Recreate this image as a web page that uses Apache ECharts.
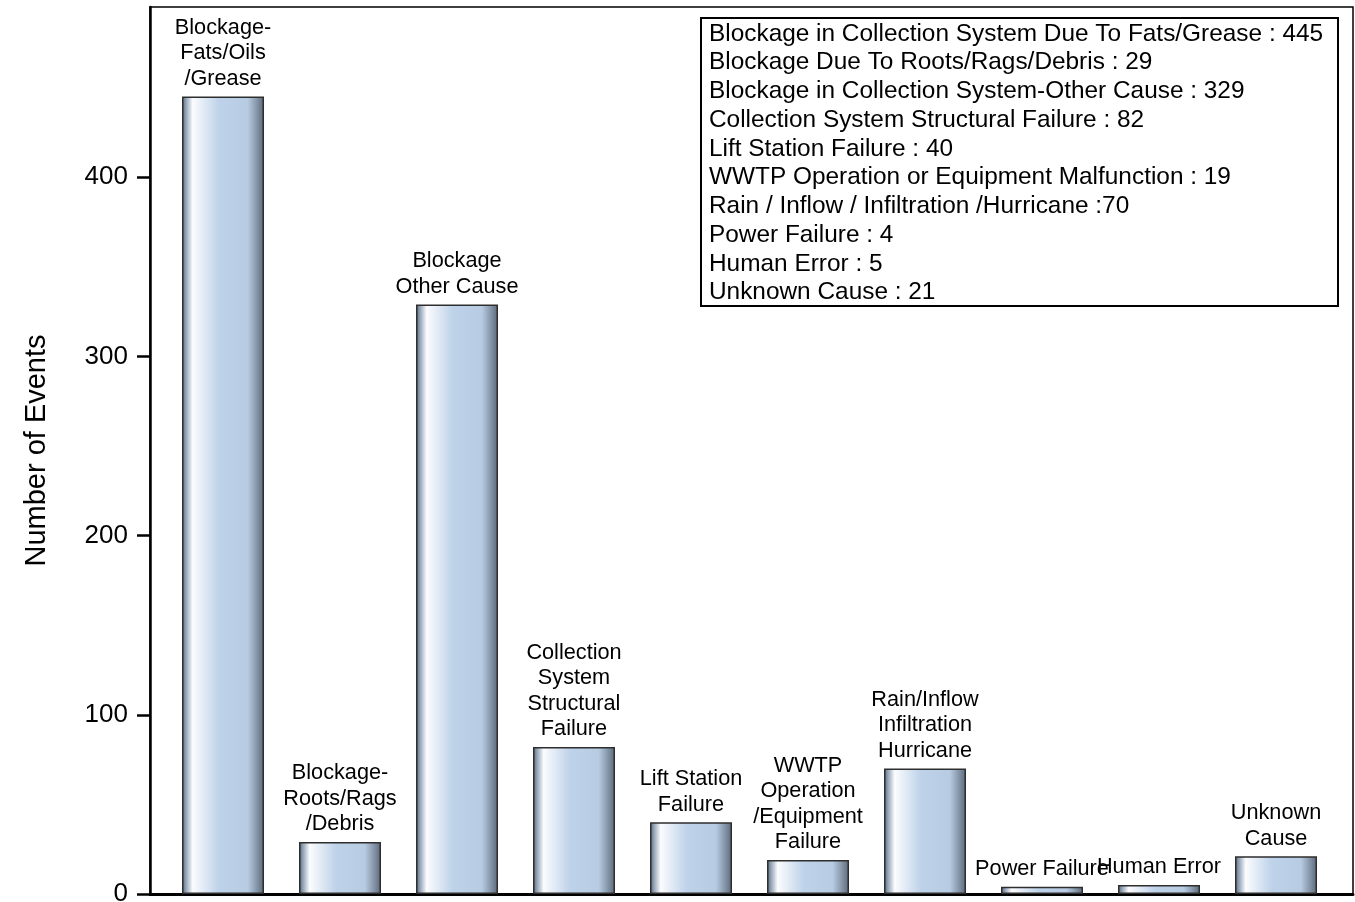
<!DOCTYPE html>
<html>
<head>
<meta charset="utf-8">
<script src="https://cdn.jsdelivr.net/npm/echarts@6/dist/echarts.min.js"></script>
<style>
html,body{margin:0;padding:0;background:#fff;}
#chart{width:1355px;height:902px;}
</style>
</head>
<body>
<div id="chart"></div>
<script>
// ---- data ----
const categories = [
  'Blockage-\nFats/Oils\n/Grease',
  'Blockage-\nRoots/Rags\n/Debris',
  'Blockage\nOther Cause',
  'Collection\nSystem\nStructural\nFailure',
  'Lift Station\nFailure',
  'WWTP\nOperation\n/Equipment\nFailure',
  'Rain/Inflow\nInfiltration\nHurricane',
  'Power Failure',
  'Human Error',
  'Unknown\nCause'
];
const values = [445, 29, 329, 82, 40, 19, 70, 4, 5, 21];
const legendLines = [
  'Blockage in Collection System Due To Fats/Grease : 445',
  'Blockage Due To Roots/Rags/Debris : 29',
  'Blockage in Collection System-Other Cause : 329',
  'Collection System Structural Failure : 82',
  'Lift Station Failure : 40',
  'WWTP Operation or Equipment Malfunction : 19',
  'Rain / Inflow / Infiltration /Hurricane :70',
  'Power Failure : 4',
  'Human Error : 5',
  'Unknown Cause : 21'
];
const yTicks = [0, 100, 200, 300, 400];
const yAxisTitle = 'Number of Events';

// ---- chart ----
const chart = echarts.init(document.getElementById('chart'));
const FONT = 'Liberation Sans, Arial, sans-serif';
const gridL = 150, gridT = 7, gridW = 1203, gridH = 887;

const barColor = {
  type: 'linear', x: 0, y: 0, x2: 1, y2: 0,
  colorStops: [
    {offset: 0, color: '#56677b'},
    {offset: 0.05, color: '#95a5b8'},
    {offset: 0.13, color: '#fbfcfe'},
    {offset: 0.45, color: '#bed2e9'},
    {offset: 0.8, color: '#b7cce3'},
    {offset: 0.9, color: '#8c9cb0'},
    {offset: 1, color: '#5a6879'}
  ]
};

const option = {
  backgroundColor: '#fff',
  animation: false,
  grid: {left: gridL, top: gridT, width: gridW, height: gridH, outerBoundsMode: 'none', containLabel: false},
  xAxis: {
    type: 'value',
    min: -0.624, max: 9.658,
    axisLine: {show: true, onZero: false, lineStyle: {color: '#000', width: 3}},
    axisTick: {show: false},
    axisLabel: {show: false},
    splitLine: {show: false}
  },
  yAxis: {
    type: 'value',
    min: 0, max: 495, interval: 100,
    name: yAxisTitle,
    nameLocation: 'middle',
    nameGap: 99,
    nameTextStyle: {fontSize: 29, color: '#000', fontFamily: FONT},
    axisLine: {show: true, onZero: false, lineStyle: {color: '#000', width: 2.5}},
    axisTick: {show: true, length: 13, lineStyle: {color: '#000', width: 2.5}, customValues: yTicks},
    axisLabel: {fontSize: 26, color: '#000', fontFamily: FONT, margin: 22, customValues: yTicks},
    splitLine: {show: false}
  },
  series: [{
    type: 'bar',
    barWidth: 82,
    data: values.map((v, i) => [i, v]),
    itemStyle: {color: barColor, borderColor: '#2e2e2e', borderWidth: 1.5},
    label: {
      show: true,
      position: 'top',
      distance: 5,
      fontSize: 21.7,
      lineHeight: 25.5,
      color: '#000',
      fontFamily: FONT,
      align: 'center',
      formatter: p => categories[p.dataIndex]
    }
  }],
  graphic: [
    {
      type: 'rect', z: 0, silent: true,
      shape: {x: gridL, y: gridT, width: gridW, height: gridH},
      style: {fill: 'none', stroke: '#000', lineWidth: 1.5}
    },
    {
      type: 'rect', z: 10, silent: true,
      shape: {x: 701, y: 18, width: 637, height: 288},
      style: {fill: '#fff', stroke: '#000', lineWidth: 2}
    }
  ].concat(legendLines.map((t, i) => ({
    type: 'text', z: 11, silent: true,
    x: 709, y: 34 + i * 28.75,
    style: {text: t, fontSize: 24.4, fontFamily: FONT, fill: '#000', verticalAlign: 'middle', align: 'left'}
  })))
};
chart.setOption(option);
</script>
</body>
</html>
